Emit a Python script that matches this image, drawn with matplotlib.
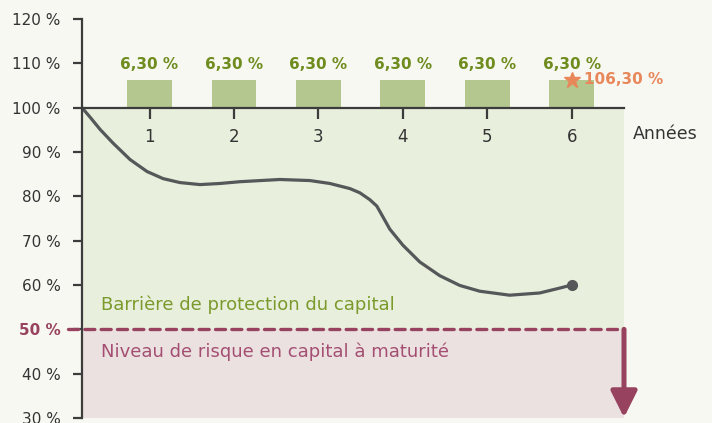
import matplotlib.pyplot as plt
from matplotlib.patches import ArrowStyle

# data
years = [1, 2, 3, 4, 5, 6]
coupons = [6.30, 6.30, 6.30, 6.30, 6.30, 6.30]
coupon_labels = ['6,30 %'] * 6
final_value = 106.30
final_label = '106,30 %'
barrier = 50

path_x = [0.2, 0.296, 0.414, 0.568, 0.769, 0.970, 1.160, 1.361, 1.598,
          1.834, 2.071, 2.544, 2.899, 3.136, 3.373, 3.491, 3.609, 3.692,
          3.728, 3.787, 3.846, 4.0, 4.201, 4.438, 4.675, 4.911, 5.266,
          5.621, 5.858, 6.0]
path_y = [100, 97.85, 95.1, 92.0, 88.3, 85.6, 84.0, 83.1, 82.65,
          82.9, 83.3, 83.8, 83.56, 82.9, 81.75, 80.8, 79.25, 77.8,
          76.6, 74.6, 72.6, 69.0, 65.2, 62.1, 59.9, 58.6, 57.7,
          58.2, 59.3, 60.0]

yticks = [30, 40, 50, 60, 70, 80, 90, 100, 110, 120]
ytick_labels = [f'{v} %' for v in yticks]

bg = '#f8f8f3'
axis_col = '#3c3c3c'
olive = '#6f8c1e'
maroon = '#97435f'
orange = '#e8875a'

plt.rcParams['font.family'] = ['DejaVu Sans']

fig = plt.figure(figsize=(7.12, 4.23), dpi=100, facecolor=bg)
ax = fig.add_axes([82 / 712, 5 / 423, (624 - 82) / 712, 399 / 423])
ax.set_facecolor(bg)
x0, x1 = 0.2, 6.62
ax.set_xlim(x0, x1)
ax.set_ylim(30, 120)

# zones
ax.axhspan(50, 100, color='#e8efdd', zorder=0)
ax.axhspan(30, 50, color='#ebe1e1', zorder=0)

# coupon bars
ax.bar(years, coupons, bottom=100, width=0.53, color='#b3c78f', zorder=2)
for x, c, lab in zip(years, coupons, coupon_labels):
    ax.text(x, 100 + c + 3.5, lab, ha='center', va='center', fontsize=11,
            fontweight='bold', color=olive, zorder=4)

# final value star
ax.plot(years[-1], final_value, marker='*', ms=12, color=orange, zorder=5,
        clip_on=False)
ax.text(years[-1] + 0.15, final_value, final_label, ha='left', va='center',
        fontsize=11, fontweight='bold', color=orange, zorder=5)

# underlying path
ax.plot(path_x, path_y, color='#555759', lw=2.3, solid_capstyle='round',
        solid_joinstyle='round', zorder=3)
ax.plot(path_x[-1], path_y[-1], 'o', ms=7, color='#555759', zorder=3)

# barrier
ax.plot([0.035, x1], [barrier, barrier], color=maroon, lw=2.4,
        linestyle=(0, (3.0, 1.9)), dash_capstyle='round', clip_on=False,
        zorder=3)
ax.annotate('', xy=(x1, 30.1), xytext=(x1, barrier),
            arrowprops=dict(arrowstyle=ArrowStyle('-|>', head_length=1.6,
                                                  head_width=0.8),
                            mutation_scale=10, lw=3.6, color=maroon,
                            shrinkA=0, shrinkB=0),
            annotation_clip=False, zorder=4)

ax.text(0.42, 55.6, 'Barrière de protection du capital', ha='left',
        va='center', fontsize=13, color='#7b9a2b')
ax.text(0.42, 44.9, 'Niveau de risque en capital à maturité', ha='left',
        va='center', fontsize=13, color='#a44f72')

# axes styling
for s in ['top', 'right']:
    ax.spines[s].set_visible(False)
ax.spines['bottom'].set_position(('data', 100))
for s in ['left', 'bottom']:
    ax.spines[s].set_color(axis_col)
    ax.spines[s].set_linewidth(1.6)
    ax.spines[s].set_zorder(6)

ax.set_xticks(years)
ax.set_xticklabels([str(y) for y in years])
ax.tick_params(axis='x', direction='out', length=8, width=1.6, color=axis_col,
               labelsize=12, labelcolor='#333333', pad=7)
ax.set_yticks(yticks)
ax.set_yticklabels(ytick_labels)
ax.tick_params(axis='y', direction='out', length=6.5, width=1.6,
               color=axis_col, labelsize=11, labelcolor='#333333', pad=9)
for t in ax.get_yticklabels():
    if t.get_text() == '50 %':
        t.set_color(maroon)
        t.set_fontweight('bold')

ax.text(7.11, 94.1, 'Années', ha='center', va='center', fontsize=12.5,
        color='#333333', clip_on=False)

fig.savefig('out.png', dpi=100, facecolor=bg)
